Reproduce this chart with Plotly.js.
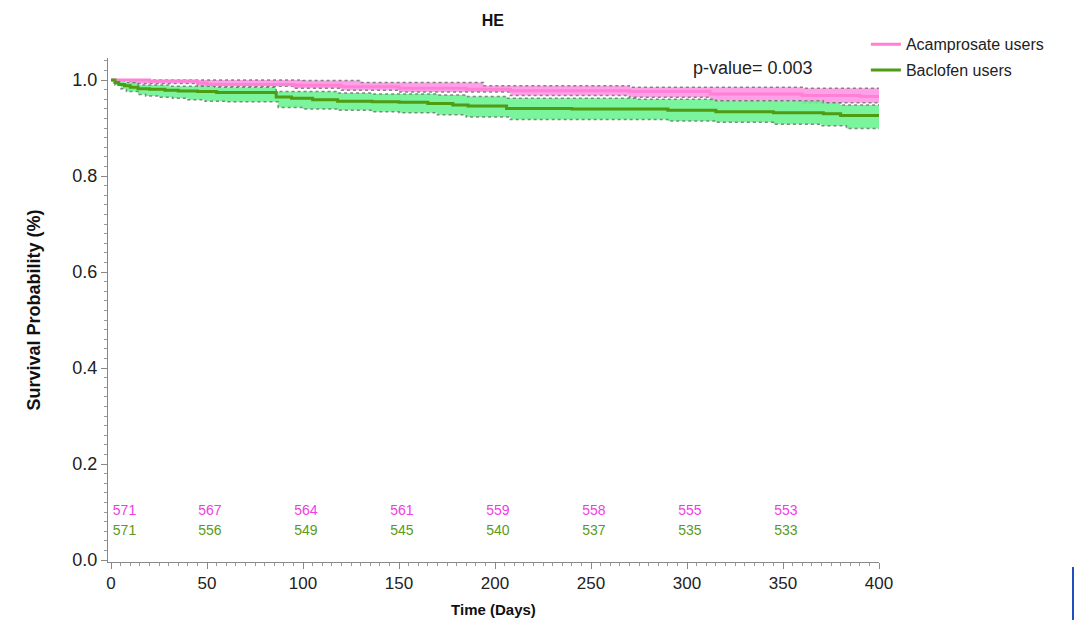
<!DOCTYPE html>
<html>
<head>
<meta charset="utf-8">
<script src="https://cdn.plot.ly/plotly-3.0.1.min.js"></script>
<style>html,body{margin:0;padding:0;background:#fff;}#chart{width:1076px;height:622px;}</style>
</head>
<body>
<div id="chart"></div>
<script>
// ---- Data ----
const acampTime  = [0, 20, 45, 50, 95, 120, 150, 185, 208, 270, 312, 360, 390, 400];
const acampSurv  = [1.0, 0.998, 0.994, 0.991, 0.989, 0.986, 0.983, 0.981, 0.978, 0.976, 0.971, 0.968, 0.966, 0.966];
const acampUpTime = [0, 100, 130, 194, 270, 360, 400];
const acampUpper  = [1.0, 0.999, 0.995, 0.988, 0.985, 0.983, 0.982];
const acampLoTime = [0, 10, 45, 95, 120, 150, 208, 270, 312, 360, 400];
const acampLower  = [1.0, 0.993, 0.987, 0.983, 0.979, 0.975, 0.968, 0.964, 0.957, 0.953, 0.948];

const baclTime = [0, 2, 4, 7, 10, 14, 20, 28, 35, 45, 55, 70, 86, 94, 105, 118, 136, 150, 165, 178, 186, 206, 240, 274, 290, 315, 345, 371, 380, 400];
const baclSurv = [1.0, 0.995, 0.991, 0.988, 0.985, 0.982, 0.981, 0.979, 0.977, 0.976, 0.974, 0.974, 0.965, 0.962, 0.959, 0.956, 0.955, 0.954, 0.951, 0.948, 0.946, 0.941, 0.940, 0.940, 0.937, 0.934, 0.932, 0.930, 0.926, 0.926];
const baclUpTime = [0, 7, 14, 30, 54, 86, 118, 136, 170, 185, 206, 274, 315, 371, 380, 400];
const baclUpper  = [1.0, 0.995, 0.99, 0.987, 0.985, 0.976, 0.973, 0.971, 0.969, 0.966, 0.962, 0.960, 0.957, 0.953, 0.948, 0.948];
const baclLoTime = [0, 2, 5, 8, 14, 18, 25, 32, 40, 49, 60, 87, 100, 118, 136, 150, 170, 185, 208, 274, 290, 315, 345, 370, 383, 400];
const baclLower  = [1.0, 0.99, 0.982, 0.976, 0.970, 0.967, 0.964, 0.962, 0.959, 0.956, 0.955, 0.943, 0.940, 0.937, 0.934, 0.932, 0.928, 0.923, 0.918, 0.918, 0.915, 0.912, 0.908, 0.905, 0.899, 0.899];

const riskTimes = [0, 50, 100, 150, 200, 250, 300, 350];
const acampAtRisk = [571, 567, 564, 561, 559, 558, 555, 553];
const baclAtRisk  = [571, 556, 549, 545, 540, 537, 535, 533];

const xTicks = [0, 50, 100, 150, 200, 250, 300, 350, 400];
const yTicks = [0.0, 0.2, 0.4, 0.6, 0.8, 1.0];

const pValueText = 'p-value= 0.003';
const chartTitle = 'HE';

// ---- Styles ----
const FONT = 'Liberation Sans, Arial, sans-serif';
const pinkFill = 'rgba(255,150,230,0.9)';
const pinkLine = '#ff80d6';
const greenFill = 'rgba(105,242,145,0.88)';
const greenLine = '#4f9b12';
const ciLine = {color: 'rgba(110,120,110,0.85)', width: 1.5, dash: 'dot', shape: 'hv'};
const riskX = riskTimes.map(t => t === 0 ? 7 : t + 1.5);

const traces = [
  {x: acampUpTime, y: acampUpper, mode: 'lines', line: ciLine, showlegend: false, hoverinfo: 'skip'},
  {x: acampLoTime, y: acampLower, mode: 'lines', line: ciLine, fill: 'tonexty', fillcolor: pinkFill, showlegend: false, hoverinfo: 'skip'},
  {x: baclUpTime, y: baclUpper, mode: 'lines', line: ciLine, showlegend: false, hoverinfo: 'skip'},
  {x: baclLoTime, y: baclLower, mode: 'lines', line: ciLine, fill: 'tonexty', fillcolor: greenFill, showlegend: false, hoverinfo: 'skip'},
  {x: acampTime, y: acampSurv, mode: 'lines', name: 'Acamprosate users', legendgroup: 'a', legendrank: 1, line: {color: pinkLine, width: 3, shape: 'hv'}},
  {x: baclTime, y: baclSurv, mode: 'lines', name: 'Baclofen users', legendgroup: 'b', legendrank: 2, line: {color: greenLine, width: 3, shape: 'hv'}},
  {x: riskX, y: riskTimes.map(() => 0.102), mode: 'text',
   text: acampAtRisk.map(String), textposition: 'middle center',
   textfont: {family: FONT, size: 14, color: '#f03ce6'}, showlegend: false, hoverinfo: 'skip'},
  {x: riskX, y: riskTimes.map(() => 0.060), mode: 'text',
   text: baclAtRisk.map(String), textposition: 'middle center',
   textfont: {family: FONT, size: 14, color: '#5a9a1a'}, showlegend: false, hoverinfo: 'skip'}
];

const layout = {
  width: 1076, height: 622,
  paper_bgcolor: '#fff', plot_bgcolor: '#fff',
  font: {family: FONT, color: '#222'},
  margin: {l: 108, r: 197, t: 58, b: 60},
  title: {text: '<b>' + chartTitle + '</b>', font: {size: 16, color: '#111'}, x: 0.458, xanchor: 'center', y: 0.968, yanchor: 'middle', yref: 'container'},
  xaxis: {
    range: [-1.6, 400], tickvals: xTicks, ticktext: xTicks.map(String),
    showgrid: false, zeroline: false, showline: true, linecolor: '#888', linewidth: 1,
    ticks: 'outside', ticklen: 6, tickcolor: '#888', tickfont: {size: 17, color: '#222'},
    minor: {dtick: 5, tick0: 0, ticks: 'outside', ticklen: 3, tickcolor: '#999', showgrid: false},
    title: {text: '<b>Time (Days)</b>', font: {size: 15, color: '#111'}, standoff: 12}
  },
  yaxis: {
    range: [-0.004, 1.046], tickvals: yTicks, ticktext: yTicks.map(v => v.toFixed(1)),
    showgrid: false, zeroline: false, showline: true, linecolor: '#888', linewidth: 1,
    ticks: 'outside', ticklen: 6, tickcolor: '#888', tickfont: {size: 18, color: '#222'},
    minor: {dtick: 0.02, tick0: 0, ticks: 'outside', ticklen: 3, tickcolor: '#999', showgrid: false},
    title: {text: '<b>Survival Probability (%)</b>', font: {size: 18, color: '#111'}, standoff: 27}
  },
  legend: {x: 0.983, xanchor: 'left', y: 1.061, yanchor: 'top', font: {size: 16, color: '#222'}, bgcolor: 'rgba(0,0,0,0)', traceorder: 'grouped', tracegroupgap: 2},
  annotations: [
    {text: pValueText, xref: 'x', yref: 'y', x: 334.5, y: 1.026, showarrow: false, font: {size: 18, color: '#222'}, xanchor: 'center', yanchor: 'middle'}
  ],
  shapes: [
    {type: 'line', xref: 'paper', yref: 'paper', x0: 1.2516, x1: 1.2516, y0: -0.01, y1: -0.115, line: {color: '#1f4fbf', width: 2}}
  ]
};

Plotly.newPlot('chart', traces, layout, {displayModeBar: false, staticPlot: true});
</script>
</body>
</html>
